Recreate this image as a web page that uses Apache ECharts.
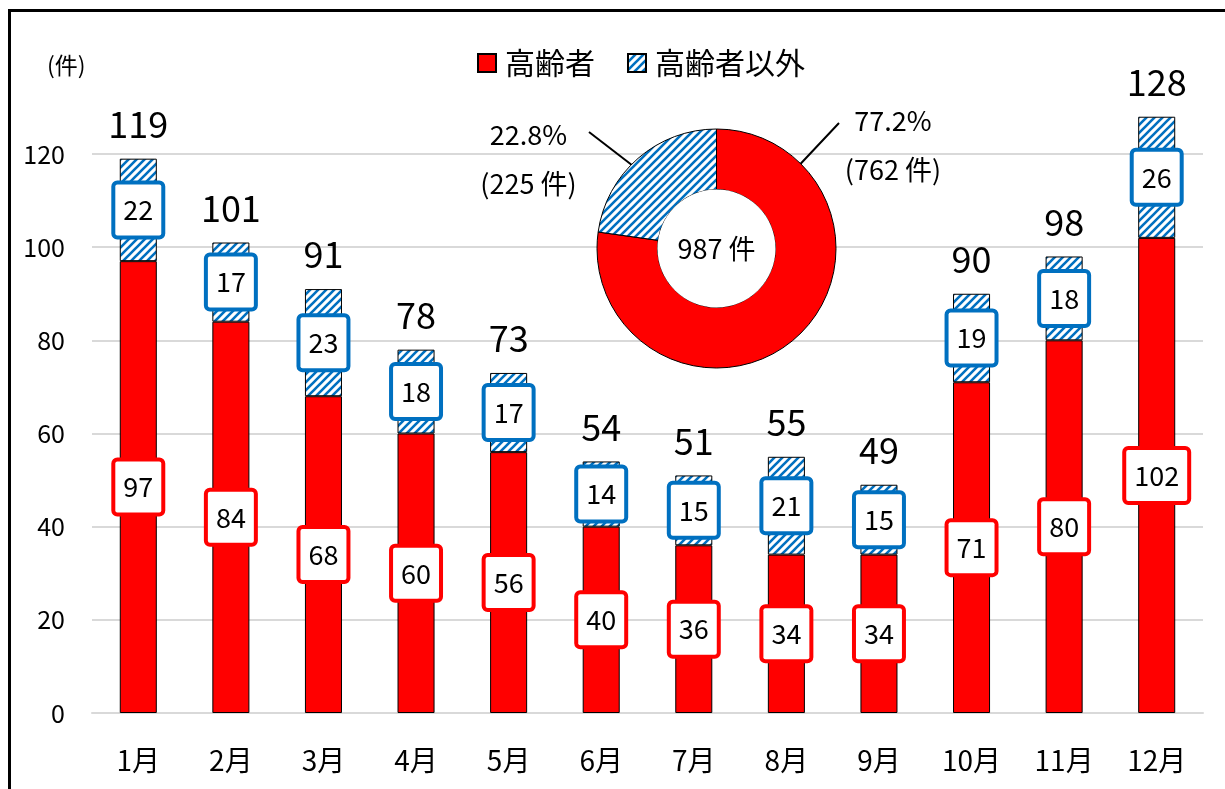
<!DOCTYPE html>
<html><head><meta charset="utf-8">
<script src="https://cdn.jsdelivr.net/npm/echarts@6/dist/echarts.min.js"></script>
<style>
html,body{margin:0;padding:0;overflow:hidden;background:#fff;width:1225px;height:789px;}
#frame{position:absolute;left:8px;top:9px;width:1400px;height:1000px;border-left:3px solid #000;border-top:3px solid #000;box-sizing:border-box;}
#main{position:absolute;left:0;top:0;width:1225px;height:789px;}
</style></head><body>
<div id="frame"></div><div id="main"></div>
<script>
// ---- data ----
const months = ['1月','2月','3月','4月','5月','6月','7月','8月','9月','10月','11月','12月'];
const elderly = [97, 84, 68, 60, 56, 40, 36, 34, 34, 71, 80, 102];
const others  = [22, 17, 23, 18, 17, 14, 15, 21, 15, 19, 18, 26];
const totals  = [119, 101, 91, 78, 73, 54, 51, 55, 49, 90, 98, 128];
const yTickLabels = [0, 20, 40, 60, 80, 100, 120];
const seriesNames = ['高齢者', '高齢者以外'];
const unit = '件';

// ---- derived ----
const sumElderly = elderly.reduce((a, b) => a + b, 0);
const sumOthers = others.reduce((a, b) => a + b, 0);
const grandTotal = sumElderly + sumOthers;

// ---- styles / layout ----
const FONT = '"Noto Sans CJK JP", "Noto Sans", sans-serif';
const RED = '#FF0000';
const BLUE = '#0070C0';
const pieCx = 716.5, pieCy = 248.5;
const pieLabelLayout = [
  { dx: 176.5, dy: -103.5, line: [[122.5, -125.5], [90, -91], [58.5, -57.5]] },
  { dx: -188, dy: -89.5, line: [[-127.5, -116.5], [-97, -93], [-66.5, -69.5]] }
];

function hatch() {
  const s = 8, c = document.createElement('canvas');
  c.width = c.height = s;
  const g = c.getContext('2d');
  g.fillStyle = '#fff'; g.fillRect(0, 0, s, s);
  g.strokeStyle = BLUE; g.lineWidth = 2.6;
  g.beginPath();
  g.moveTo(-2, s + 2); g.lineTo(s + 2, -2);
  g.moveTo(-2, 2); g.lineTo(2, -2);
  g.moveTo(s - 2, s + 2); g.lineTo(s + 2, s - 2);
  g.stroke();
  return c;
}
const hatchFill = { image: hatch(), repeat: 'repeat' };

function boxLabel(borderColor) {
  return {
    show: true, position: 'inside', color: '#000', fontSize: 27, fontFamily: FONT,
    lineHeight: 27, backgroundColor: '#fff', borderColor: borderColor, borderWidth: 4,
    borderRadius: 2, padding: [12, 8]
  };
}

const chart = echarts.init(document.getElementById('main'));
chart.setOption({
  animation: false,
  textStyle: { fontFamily: FONT, color: '#000' },
  title: { text: '(' + unit + ')', left: 42, top: 49, textStyle: { fontSize: 23, fontWeight: 'normal', color: '#000', fontFamily: FONT } },
  legend: {
    data: seriesNames, left: 472, top: 43, icon: 'rect', itemWidth: 18, itemHeight: 18, itemGap: 32,
    textStyle: { fontSize: 30, color: '#000', fontFamily: FONT, padding: [0, 0, 0, 4] }
  },
  grid: { left: 92, right: 22, top: 154, bottom: 76, containLabel: false },
  xAxis: {
    type: 'category', data: months,
    axisLine: { show: true, lineStyle: { color: '#d9d9d9', width: 2 } },
    axisTick: { show: false },
    axisLabel: { fontSize: 28, color: '#000', margin: 33, fontFamily: FONT }
  },
  yAxis: {
    type: 'value', min: yTickLabels[0], max: yTickLabels[yTickLabels.length - 1],
    interval: yTickLabels[1] - yTickLabels[0],
    axisLine: { show: false }, axisTick: { show: false },
    axisLabel: { fontSize: 25, color: '#000', margin: 27, fontFamily: FONT },
    splitLine: { lineStyle: { color: '#d9d9d9', width: 2 } }
  },
  series: [
    {
      name: seriesNames[0], type: 'bar', stack: 'm', data: elderly, barWidth: '40%', clip: false,
      itemStyle: { color: RED, borderColor: '#000', borderWidth: 1 },
      label: boxLabel(RED), z: 3
    },
    {
      name: seriesNames[1], type: 'bar', stack: 'm', data: others, barWidth: '40%', clip: false,
      itemStyle: { color: hatchFill, borderColor: '#000', borderWidth: 1 },
      label: boxLabel(BLUE), z: 3
    },
    {
      name: '合計', type: 'line', data: totals, clip: false, silent: true,
      symbol: 'circle', symbolSize: 1, itemStyle: { color: 'rgba(0,0,0,0)' },
      lineStyle: { width: 0, opacity: 0 },
      label: { show: true, position: 'top', distance: 16, fontSize: 36, color: '#000', fontFamily: FONT },
      z: 4
    },
    {
      type: 'pie', silent: true, center: [pieCx, pieCy], radius: [59, 119.5],
      startAngle: 90, clockwise: true, z: 5,
      itemStyle: { borderColor: '#000', borderWidth: 1 },
      data: [
        { name: seriesNames[0], value: sumElderly, itemStyle: { color: RED } },
        { name: seriesNames[1], value: sumOthers, itemStyle: { color: hatchFill } }
      ],
      label: {
        show: true, position: 'outside', fontSize: 27, lineHeight: 49, color: '#000', fontFamily: FONT,
        formatter: p => (p.value / grandTotal * 100).toFixed(1) + '%\n(' + p.value + ' ' + unit + ')'
      },
      labelLine: { show: true, lineStyle: { color: '#000', width: 2 } },
      labelLayout: function (p) {
        const c = pieLabelLayout[p.dataIndex];
        return {
          x: pieCx + c.dx, y: pieCy + c.dy, align: 'center', verticalAlign: 'middle',
          labelLinePoints: c.line.map(pt => [pieCx + pt[0], pieCy + pt[1]])
        };
      }
    },
    {
      type: 'pie', silent: true, center: [pieCx, pieCy], radius: [0, 59], z: 5,
      data: [{ name: 'total', value: grandTotal, itemStyle: { color: '#fff' } }],
      label: { show: true, position: 'center', fontSize: 27, color: '#000', fontFamily: FONT,
        formatter: () => grandTotal + ' ' + unit },
      labelLine: { show: false }
    }
  ]
});
</script>
</body></html>
